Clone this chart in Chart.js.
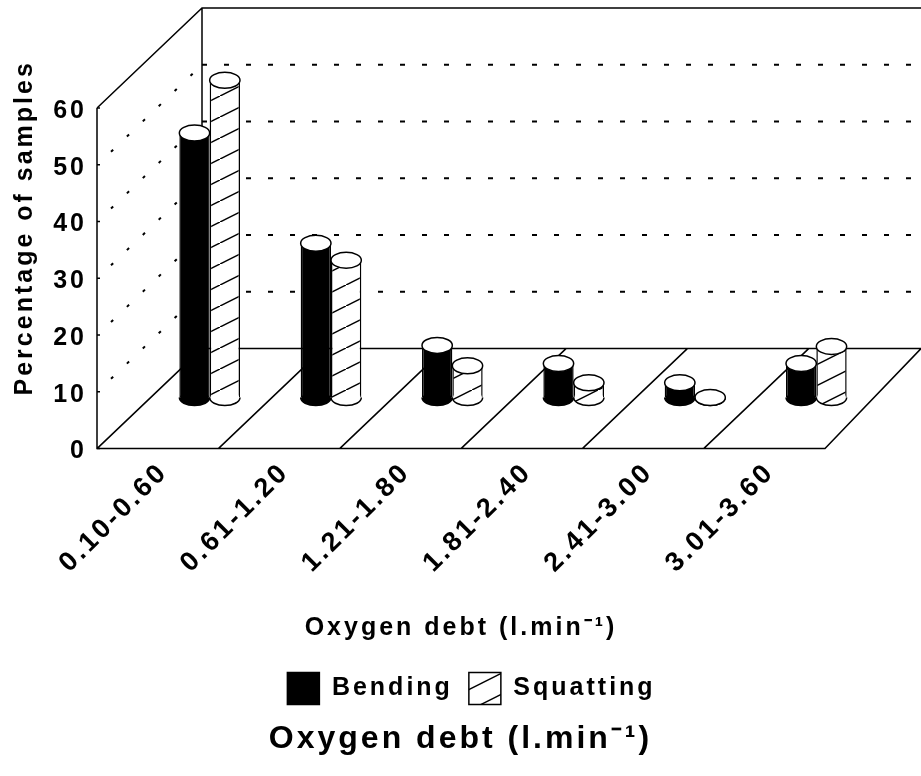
<!DOCTYPE html>
<html lang="en">
<head>
  <meta charset="UTF-8">
  <title>Oxygen debt</title>
  <script src="https://cdn.jsdelivr.net/npm/chart.js"></script>
  <style>
    html, body { margin: 0; padding: 0; background: #fff; }
    #wrap { width: 921px; height: 776px; }
  </style>
</head>
<body>
  <div id="wrap"><canvas id="oxygenChart" width="921" height="776"></canvas></div>
  <script>
    const categories = ['0.10-0.60', '0.61-1.20', '1.21-1.80', '1.81-2.40', '2.41-3.00', '3.01-3.60'];
    const bending = [46.6, 27.2, 9.2, 6, 2.6, 6];
    const squatting = [55.9, 24.2, 5.6, 2.6, 0, 9];
    const yTicks = [0, 10, 20, 30, 40, 50, 60];

    const fontName = '"Liberation Sans", Arial, sans-serif';
    const ink = '#000';

    // hatch tile, slope 1:2 so the lines join up across tiles
    function makeHatch() {
      const tile = document.createElement('canvas');
      tile.width = 42;
      tile.height = 21;
      const t = tile.getContext('2d');
      t.fillStyle = '#fff';
      t.fillRect(0, 0, 42, 21);
      t.strokeStyle = ink;
      t.lineWidth = 1.5;
      t.beginPath();
      t.moveTo(-2, 22);
      t.lineTo(44, -1);
      t.stroke();
      return t.createPattern(tile, 'repeat');
    }

    const canvas = document.getElementById('oxygenChart');
    const hatch = makeHatch();

    // depth of the fake 3D box, and where the bars stand inside it
    const depthX = 105, depthY = 100;
    const barShiftX = 52, barShiftY = -51;

    const box3d = {
      id: 'box3d',
      beforeLayout(chart) { chart.ctx.letterSpacing = '3px'; },
      afterLayout(chart) {
        // the legend sits a bit right of centre in the original
        chart.legend.left += 11;
        chart.legend.right += 11;
      },
      beforeDraw(chart) { chart.ctx.letterSpacing = '3px'; },
      beforeDatasetsDraw(chart) {
        const { ctx, scales, chartArea } = chart;
        const y = scales.y;
        const y0 = y.getPixelForValue(0);
        const y60 = y.getPixelForValue(60);
        const l = chartArea.left, r = chartArea.right;
        const W = chart.width;

        ctx.save();
        ctx.strokeStyle = ink;

        // dotted gridlines on side and back wall
        ctx.lineWidth = 2;
        yTicks.slice(1, -1).forEach(v => {
          const p = y.getPixelForValue(v);
          ctx.setLineDash([3, 19]);
          ctx.beginPath();
          ctx.moveTo(l + 14, p - 13);
          ctx.lineTo(l + depthX, p - depthY);
          ctx.stroke();
          ctx.setLineDash([5, 17]);
          ctx.beginPath();
          ctx.moveTo(l + depthX, p - depthY);
          ctx.lineTo(W, p - depthY);
          ctx.stroke();
        });
        ctx.setLineDash([]);
        ctx.lineWidth = 1.5;

        // walls and floor
        ctx.beginPath();
        ctx.moveTo(l, y60);
        ctx.lineTo(l, y0);
        ctx.lineTo(r, y0);
        ctx.lineTo(r + 96, y0 - depthY);
        ctx.moveTo(l, y60);
        ctx.lineTo(l + depthX, y60 - depthY);
        ctx.lineTo(W, y60 - depthY);
        ctx.moveTo(l + depthX, y60 - depthY);
        ctx.lineTo(l + depthX, y0 - depthY);
        ctx.lineTo(W, y0 - depthY);
        const step = (r - l) / categories.length;
        for (let i = 0; i < categories.length; i++) {
          ctx.moveTo(l + i * step, y0);
          ctx.lineTo(l + i * step + depthX, y0 - depthY);
        }
        ctx.stroke();

        // little ticks on the front edge
        ctx.beginPath();
        yTicks.forEach(v => {
          const p = y.getPixelForValue(v);
          ctx.moveTo(l, p);
          ctx.lineTo(l + 3, p);
        });
        ctx.stroke();
        ctx.restore();

        // bars stand in the middle of the floor depth
        ctx.save();
        ctx.translate(barShiftX, barShiftY);
      },
      afterDatasetDraw(chart, args) {
        const { ctx } = chart;
        const ds = chart.data.datasets[args.index];
        args.meta.data.forEach(bar => {
          const left = bar.x - bar.width / 2;
          // rounded foot, with a bit of overlap so no seam shows
          ctx.fillStyle = ds.backgroundColor;
          ctx.beginPath();
          ctx.ellipse(bar.x, bar.base, bar.width / 2, 8, 0, 0, Math.PI);
          ctx.fill();
          ctx.fillRect(left + 1, bar.base - 2, bar.width - 2, 3);
          ctx.strokeStyle = ink;
          ctx.lineWidth = 1.5;
          ctx.beginPath();
          ctx.ellipse(bar.x, bar.base, bar.width / 2, 8, 0, 0, Math.PI);
          ctx.stroke();
          // white cap
          ctx.beginPath();
          ctx.ellipse(bar.x, bar.y, bar.width / 2, 8, 0, 0, Math.PI * 2);
          ctx.fillStyle = '#fff';
          ctx.fill();
          ctx.stroke();
        });
      },
      afterDatasetsDraw(chart) {
        chart.ctx.restore();
      }
    };

    new Chart(canvas, {
      type: 'bar',
      data: {
        labels: categories,
        datasets: [
          {
            label: 'Bending',
            data: bending,
            backgroundColor: ink,
            borderColor: ink,
            borderWidth: 1.5,
            borderSkipped: 'bottom',
            categoryPercentage: 0.5,
            barPercentage: 1,
            clip: false
          },
          {
            label: 'Squatting',
            data: squatting,
            backgroundColor: hatch,
            borderColor: ink,
            borderWidth: 1.5,
            borderSkipped: 'bottom',
            categoryPercentage: 0.5,
            barPercentage: 1,
            clip: false
          }
        ]
      },
      plugins: [box3d],
      options: {
        responsive: false,
        animation: false,
        layout: { autoPadding: false, padding: { top: 7, left: 0, right: 0, bottom: 18 } },
        scales: {
          x: {
            grid: { display: false },
            border: { display: false },
            afterFit(s) { s.height = 208; },
            ticks: {
              color: ink,
              font: { family: fontName, size: 27, weight: 'bold' },
              minRotation: 45,
              maxRotation: 45,
              labelOffset: 6,
              padding: 0,
              autoSkip: false
            },
            title: {
              display: true,
              text: 'Oxygen debt (l.min⁻¹)',
              color: ink,
              font: { family: fontName, size: 25, weight: 'bold' },
              padding: { top: 0, bottom: 13 }
            }
          },
          y: {
            min: 0,
            max: 77.8,
            grid: { display: false },
            border: { display: false },
            afterBuildTicks(s) { s.ticks = yTicks.map(v => ({ value: v })); },
            afterFit(s) {
              s.width = 97;
              s.paddingTop = 0;
              s.paddingBottom = 0;
            },
            ticks: {
              color: ink,
              font: { family: fontName, size: 25, weight: 'bold' },
              padding: 2,
              labelOffset: 3
            },
            title: {
              display: true,
              text: 'Percentage of samples',
              color: ink,
              font: { family: fontName, size: 25, weight: 'bold' },
              padding: { top: 10, bottom: 0 }
            }
          },
          // empty scale, only keeps the room for the box depth on the right
          spare: {
            type: 'linear',
            position: 'right',
            display: true,
            grid: { display: false },
            border: { display: false },
            ticks: { display: false },
            afterFit(s) { s.width = 96; }
          }
        },
        plugins: {
          tooltip: { enabled: false },
          legend: {
            position: 'bottom',
            weight: 1,
            labels: {
              color: ink,
              boxWidth: 32,
              boxHeight: 32,
              padding: 16,
              font: { family: fontName, size: 25, weight: 'bold' }
            }
          },
          title: {
            display: true,
            position: 'bottom',
            weight: 2,
            text: 'Oxygen debt (l.min⁻¹)',
            color: ink,
            font: { family: fontName, size: 32, weight: 'bold' },
            padding: { top: 5, bottom: 0 }
          }
        }
      }
    });
  </script>
</body>
</html>
